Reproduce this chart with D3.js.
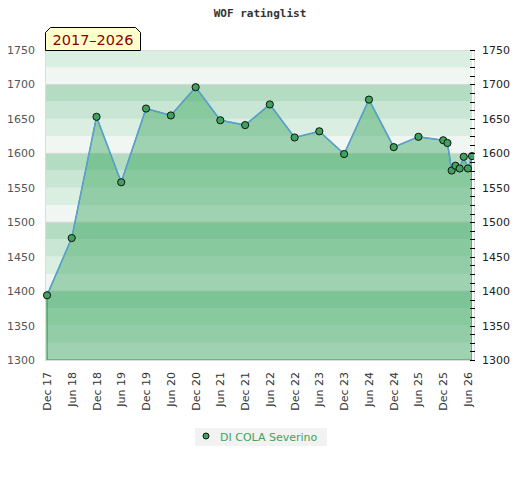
<!DOCTYPE html>
<html><head><meta charset="utf-8">
<script src="https://cdn.jsdelivr.net/npm/d3@7"></script>
<style>body{margin:0;background:#fff}svg{display:block}</style>
</head><body>
<svg id="c" width="520" height="480"></svg>
<script>
// ---- data ----
const title = "WOF ratinglist";
const periodLabel = "2017–2026";
const playerName = "DI COLA Severino";
const dates = ["2017-12","2018-06","2018-12","2019-06","2019-12","2020-06","2020-12","2021-06","2021-12","2022-06","2022-12","2023-06","2023-12","2024-06","2024-12","2025-06","2025-12","2026-01","2026-02","2026-03","2026-04","2026-05","2026-06","2026-07"];
const ratings = [1394,1477,1653,1558,1665,1655,1696,1648,1641,1671,1623,1632,1599,1678,1609,1624,1619,1615,1575,1582,1578,1595,1578,1596];
const xTickDates = ["2017-12","2018-06","2018-12","2019-06","2019-12","2020-06","2020-12","2021-06","2021-12","2022-06","2022-12","2023-06","2023-12","2024-06","2024-12","2025-06","2025-12","2026-06"];
const yTicks = [1300,1350,1400,1450,1500,1550,1600,1650,1700,1750];
const yDomain = [1300,1750];
const xDomain = ["2017-11-16","2026-07-01"];

// ---- layout ----
const parse = d3.timeParse("%Y-%m");
const parseDay = d3.timeParse("%Y-%m-%d");
const L = 45, R = 472, T = 50, B = 360;
const svg = d3.select("#c");
const x = d3.scaleTime().domain(xDomain.map(parseDay)).range([L, R]);
const y = d3.scaleLinear().domain(yDomain).range([B, T]);
const data = dates.map((d,i)=>({date:parse(d), v:ratings[i]}));

const defs = svg.append("defs");
defs.append("clipPath").attr("id","clip").append("rect").attr("x",L).attr("y",T).attr("width",R-L).attr("height",B-T);
defs.append("clipPath").attr("id","clipM").append("rect").attr("x",L-6).attr("y",T-6).attr("width",R-L+8).attr("height",B-T+12);

// bands
const shades = ["#f0f7f3","#daeee2","#c8e6d3","#b3dcc2"];
const bandStarts = d3.range(yDomain[0], yDomain[1], 25);
svg.append("g").selectAll("rect").data(bandStarts).join("rect")
  .attr("x",L).attr("width",R-L)
  .attr("y",d=>y(d+25)).attr("height",d=>y(d)-y(d+25))
  .attr("fill",(d,i)=>shades[i%4]);
// gridlines
svg.append("g").selectAll("line").data(yTicks.filter(t=>t%100===0 && t>yDomain[0])).join("line")
  .attr("x1",L).attr("x2",R).attr("y1",d=>y(d)).attr("y2",d=>y(d))
  .attr("stroke","#d6d6d6").attr("stroke-width",1);
// frame
svg.append("rect").attr("x",L+0.5).attr("y",T+0.5).attr("width",R-L+2).attr("height",B-T)
  .attr("fill","none").attr("stroke","#dcdcdc");

// area
const area = d3.area().x(d=>x(d.date)).y0(B).y1(d=>y(d.v));
svg.append("path").datum(data).attr("clip-path","url(#clip)")
  .attr("d",area).attr("fill","rgb(55,163,92)").attr("fill-opacity",0.44)
  .attr("stroke","#3a9a58").attr("stroke-width",1.2);
// line
const line = d3.line().x(d=>x(d.date)).y(d=>y(d.v));
svg.append("path").datum(data).attr("clip-path","url(#clip)")
  .attr("d",line).attr("fill","none").attr("stroke","#5b9fd6").attr("stroke-width",1.5);
// markers
svg.append("g").attr("clip-path","url(#clipM)").selectAll("circle").data(data).join("circle")
  .attr("cx",d=>x(d.date)).attr("cy",d=>y(d.v)).attr("r",3.6)
  .attr("fill","#3da35d").attr("stroke","#111").attr("stroke-width",1);

// left axis
const fmt = d3.format("d");
const yl = svg.append("g").attr("transform",`translate(${L},0)`)
  .call(d3.axisLeft(y).tickValues(yTicks).tickFormat(fmt).tickSize(0).tickPadding(10));
yl.select(".domain").remove();
yl.selectAll("text").attr("font-family","DejaVu Sans").attr("font-size",11).attr("fill","#555");
// right axis
const yr = svg.append("g").attr("transform",`translate(${R},0)`)
  .call(d3.axisRight(y).tickValues(yTicks).tickFormat(fmt).tickSize(0).tickPadding(10));
yr.select(".domain").remove();
yr.selectAll("text").attr("font-family","DejaVu Sans").attr("font-size",11).attr("fill","#222");
const minor = d3.range(yDomain[0], yDomain[1]+0.1, 12.5);
svg.append("g").selectAll("line").data(minor).join("line")
  .attr("x1",R-2).attr("x2",R+3).attr("y1",d=>Math.round(y(d))+0.5).attr("y2",d=>Math.round(y(d))+0.5)
  .attr("stroke","#000").attr("stroke-width",1);

// x axis
const xa = svg.append("g").attr("transform",`translate(0,${B})`)
  .call(d3.axisBottom(x).tickValues(xTickDates.map(parse)).tickFormat(d3.timeFormat("%b %y")).tickSize(0));
xa.select(".domain").remove();
xa.selectAll("text").attr("font-family","DejaVu Sans").attr("font-size",11).attr("fill","#333")
  .attr("transform","rotate(-90)").attr("text-anchor","end").attr("dx","-12").attr("dy","0.32em").attr("y",0).attr("x",0);

// title
svg.append("text").attr("x",260).attr("y",17).attr("text-anchor","middle")
  .attr("font-family","DejaVu Sans Mono").attr("font-weight","bold").attr("font-size",11).attr("fill","#333").text(title);

// period label
const bx0=45.5, bx1=140.5, by0=27.5, by1=50.5, c=5;
svg.append("path").attr("d",`M${bx0},${by1}L${bx0},${by0+c}L${bx0+c},${by0}L${bx1-c},${by0}L${bx1},${by0+c}L${bx1},${by1}Z`)
  .attr("fill","#ffffcc").attr("stroke","#000").attr("stroke-width",1);
svg.append("text").attr("x",(bx0+bx1)/2).attr("y",45).attr("text-anchor","middle")
  .attr("font-family","DejaVu Sans").attr("font-size",14.5).attr("fill","#8b0000").text(periodLabel);

// legend
const lg = svg.append("g");
lg.append("rect").attr("x",195).attr("y",428).attr("width",132).attr("height",18).attr("fill","#f2f2f2");
lg.append("circle").attr("cx",206).attr("cy",436).attr("r",3).attr("fill","#3da35d").attr("stroke","#111");
lg.append("text").attr("x",220).attr("y",441).attr("font-family","DejaVu Sans").attr("font-size",11)
  .attr("fill","#3aa55a").text(playerName);
</script>
</body></html>
